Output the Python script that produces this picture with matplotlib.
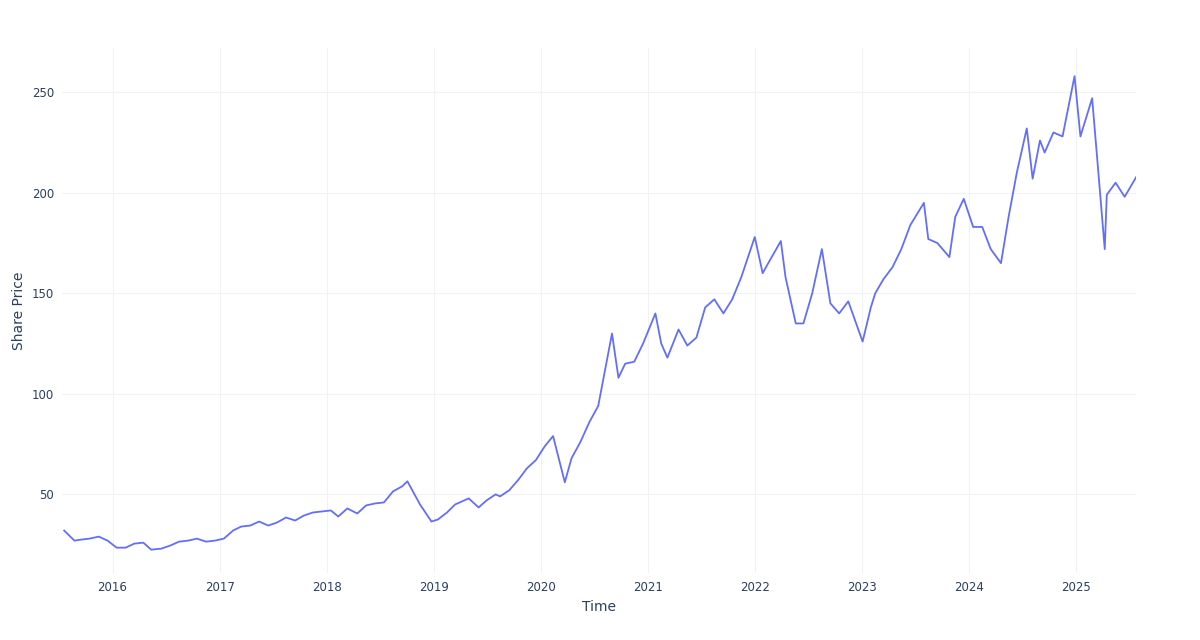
import matplotlib
matplotlib.use("Agg")
import matplotlib.pyplot as plt
import matplotlib.dates as mdates
import pandas as pd

dates = ["2015-07-20","2015-08-24","2015-09-15","2015-10-15","2015-11-15","2015-12-15",
"2016-01-15","2016-02-15","2016-03-15","2016-04-15","2016-05-12","2016-06-15","2016-07-15","2016-08-15","2016-09-15","2016-10-15","2016-11-15","2016-12-15",
"2017-01-15","2017-02-15","2017-03-15","2017-04-15","2017-05-15","2017-06-15","2017-07-15","2017-08-15","2017-09-15","2017-10-15","2017-11-15","2017-12-15",
"2018-01-15","2018-02-09","2018-03-12","2018-04-15","2018-05-15","2018-06-15","2018-07-15","2018-08-15","2018-09-15","2018-10-03","2018-11-15","2018-12-24",
"2019-01-15","2019-02-15","2019-03-15","2019-04-30","2019-06-03","2019-06-30","2019-07-31","2019-08-15","2019-09-15","2019-10-15","2019-11-15","2019-12-15",
"2020-01-15","2020-02-12","2020-03-23","2020-04-15","2020-05-15","2020-06-15","2020-07-15","2020-08-31","2020-09-22","2020-10-15","2020-11-15","2020-12-15",
"2021-01-26","2021-02-15","2021-03-08","2021-04-15","2021-05-15","2021-06-15","2021-07-15","2021-08-15","2021-09-15","2021-10-15","2021-11-15","2021-12-31",
"2022-01-27","2022-02-15","2022-03-30","2022-04-15","2022-05-20","2022-06-15","2022-07-15","2022-08-17","2022-09-15","2022-10-15","2022-11-15","2023-01-03",
"2023-01-31","2023-02-15","2023-03-15","2023-04-15","2023-05-15","2023-06-15","2023-07-31","2023-08-15","2023-09-15","2023-10-26","2023-11-15","2023-12-14",
"2024-01-15","2024-02-15","2024-03-15","2024-04-19","2024-05-15","2024-06-12","2024-07-16","2024-08-05","2024-08-30","2024-09-15","2024-10-15","2024-11-15","2024-12-26",
"2025-01-15","2025-02-24","2025-03-15","2025-04-08","2025-04-15","2025-05-15","2025-06-15","2025-07-25"]
prices = [32,27,27.5,28,29,27,
23.5,23.5,25.5,26,22.5,23,24.5,26.5,27,28,26.5,27,
28,32,34,34.5,36.5,34.5,36,38.5,37,39.5,41,41.5,
42,39,43,40.5,44.5,45.5,46,51.5,54,56.5,45,36.5,
37.5,41,45,48,43.5,47,50,49,52,57,63,67,
74,79,56,68,76,86,94,130,108,115,116,125,
140,125,118,132,124,128,143,147,140,147,158,178,
160,165,176,158,135,135,150,172,145,140,146,126,
143,150,157,163,172,184,195,177,175,168,188,197,
183,183,172,165,188,210,232,207,226,220,230,228,258,
228,247,214,172,199,205,198,208]

df = pd.DataFrame({"date": pd.to_datetime(dates), "price": prices})

fig = plt.figure(figsize=(12, 6.4), dpi=100)
ax = fig.add_axes([0.052, 0.105, 0.895, 0.82])
ax.plot(df["date"], df["price"], color="#636efa", lw=1.3)
ax.set_xlim(pd.Timestamp("2015-07-14"), pd.Timestamp("2025-07-25"))
ax.set_ylim(11, 272)
ax.set_yticks([50, 100, 150, 200, 250])
ax.xaxis.set_major_locator(mdates.YearLocator())
ax.xaxis.set_major_formatter(mdates.DateFormatter("%Y"))
ax.grid(True, color="#f0f2f6", lw=0.8)
for s in ax.spines.values():
    s.set_visible(False)
ax.tick_params(length=0, labelsize=8.5, colors="#2a3f5f", pad=6)
ax.set_xlabel("Time", color="#2a3f5f", fontsize=10)
ax.set_ylabel("Share Price", color="#2a3f5f", fontsize=10)
fig.savefig("out.png")
